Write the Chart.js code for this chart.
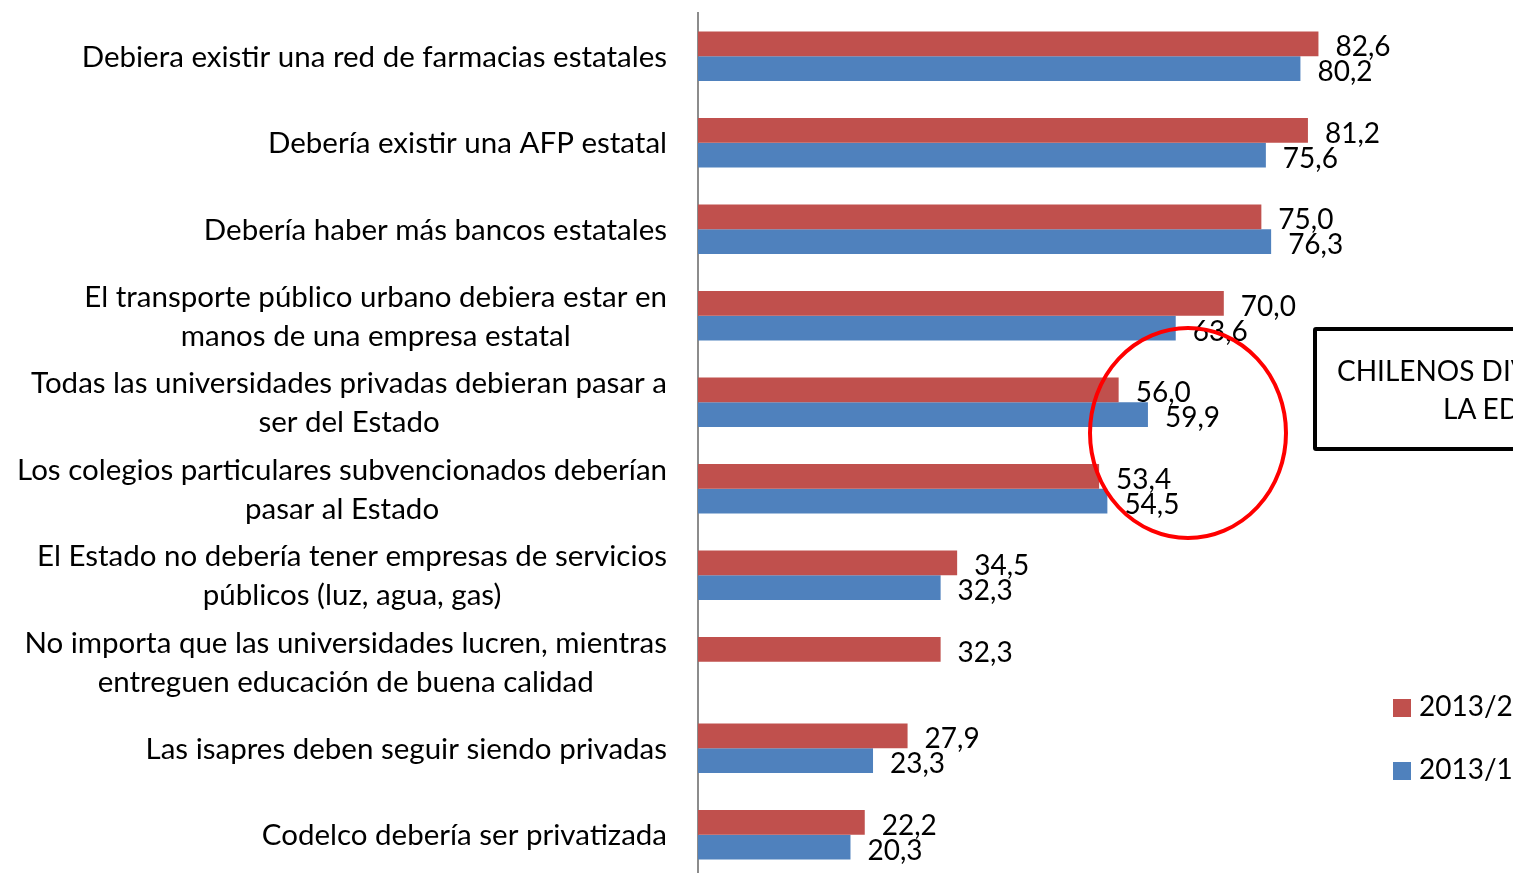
<!DOCTYPE html>
<html>
<head>
<meta charset="utf-8">
<script src="https://cdn.jsdelivr.net/npm/chart.js@4/dist/chart.umd.min.js"></script>
<style>
  html, body { margin: 0; padding: 0; background: #fff; overflow: hidden; width: 1513px; height: 873px; }
  #wrap { position: absolute; left: 0; top: 0; width: 1513px; height: 880px; }
  .box { position: absolute; left: 1313px; top: 327px; width: 400px; height: 116px; border: 4px solid #000; border-radius: 3px; box-sizing: content-box; font-family: Lato, sans-serif; font-size: 28px; color: #000; }
  .box span { position: absolute; white-space: nowrap; }
  .legend { position: absolute; left: 1393px; font-family: Lato, sans-serif; font-size: 28px; color: #000; white-space: nowrap; }
  .legend i { display: inline-block; width: 18px; height: 18px; margin-right: 8px; vertical-align: -1px; }
</style>
</head>
<body>
<div id="wrap"><canvas id="chart" width="1513" height="880"></canvas></div>
<div class="box"><span style="left:20px;top:22px">CHILENOS DIVIDIDOS RESPECTO A</span><span style="left:126px;top:60px">LA EDUCACIÓN</span></div>
<div id="legend"></div>
<script>
const categories = [
  ['Debiera existir una red de farmacias estatales'],
  ['Debería existir una AFP estatal'],
  ['Debería haber más bancos estatales'],
  ['El transporte público urbano debiera estar en', 'manos de una empresa estatal'],
  ['Todas las universidades privadas debieran pasar a', 'ser del Estado'],
  ['Los colegios particulares subvencionados deberían', 'pasar al Estado'],
  ['El Estado no debería tener empresas de servicios', 'públicos (luz, agua, gas)'],
  ['No importa que las universidades lucren, mientras', 'entreguen educación de buena calidad'],
  ['Las isapres deben seguir siendo privadas'],
  ['Codelco debería ser privatizada']
];
const seriesNames = ['2013/2', '2013/1'];
const values2013_2 = [82.6, 81.2, 75.0, 70.0, 56.0, 53.4, 34.5, 32.3, 27.9, 22.2];
const values2013_1 = [80.2, 75.6, 76.3, 63.6, 59.9, 54.5, 32.3, null, 23.3, 20.3];
const colors = ['#C0504D', '#4F81BD'];

const FONT = 'Lato, sans-serif';

// legend (html, to the right, partly cut by the page edge)
const legendTops = [688, 751];
seriesNames.forEach((name, i) => {
  const d = document.createElement('div');
  d.className = 'legend';
  d.style.top = legendTops[i] + 'px';
  d.innerHTML = `<i style="background:${colors[i]}"></i>${name}`;
  document.getElementById('legend').appendChild(d);
});

const categoryLabels = {
  id: 'categoryLabels',
  afterDraw(chart) {
    const ctx = chart.ctx;
    const y = chart.scales.y;
    const right = 667;
    ctx.save();
    ctx.font = '29.5px ' + FONT;
    ctx.fillStyle = '#000';
    ctx.textBaseline = 'middle';
    ctx.textAlign = 'center';
    categories.forEach((lines, i) => {
      const cy = y.getPixelForValue(i) + 1;
      const w = Math.max(...lines.map((l) => ctx.measureText(l).width));
      const cx = right - w / 2;
      const lh = 39;
      const y0 = cy - (lines.length - 1) * lh / 2;
      lines.forEach((l, k) => ctx.fillText(l, cx, y0 + k * lh));
    });
    ctx.restore();
  }
};

const valueLabels = {
  id: 'valueLabels',
  afterDatasetsDraw(chart) {
    const ctx = chart.ctx;
    ctx.save();
    ctx.font = '28px ' + FONT;
    ctx.fillStyle = '#000';
    ctx.textBaseline = 'middle';
    ctx.textAlign = 'left';
    chart.data.datasets.forEach((ds, di) => {
      const meta = chart.getDatasetMeta(di);
      meta.data.forEach((bar, i) => {
        const v = ds.data[i];
        if (v === null || v === undefined) return;
        ctx.fillText(v.toFixed(1).replace('.', ','), bar.x + 17, bar.y + 3.5);
      });
    });
    ctx.restore();
  }
};

const circle = {
  id: 'circle',
  afterDraw(chart) {
    const ctx = chart.ctx;
    ctx.save();
    ctx.strokeStyle = '#FF0000';
    ctx.lineWidth = 4;
    ctx.beginPath();
    ctx.ellipse(1188, 433, 98, 105, 0, 0, Math.PI * 2);
    ctx.stroke();
    ctx.restore();
  }
};

new Chart(document.getElementById('chart'), {
  type: 'bar',
  data: {
    labels: categories.map((c) => c.join(' ')),
    datasets: [
      { label: seriesNames[0], data: values2013_2, backgroundColor: colors[0] },
      { label: seriesNames[1], data: values2013_1, backgroundColor: colors[1] }
    ]
  },
  options: {
    indexAxis: 'y',
    responsive: false,
    animation: false,
    layout: { padding: { left: 0, right: 0, top: 13, bottom: 2 } },
    datasets: { bar: { categoryPercentage: 0.572, barPercentage: 1 } },
    plugins: { legend: { display: false }, tooltip: { enabled: false } },
    scales: {
      x: { display: false, min: 0, max: 108.5 },
      y: {
        grid: { display: false },
        border: { display: true, color: '#8c8c8c', width: 2 },
        ticks: { display: false },
        afterFit(scale) { scale.width = 698; }
      }
    }
  },
  plugins: [categoryLabels, valueLabels, circle]
});
</script>
</body>
</html>
